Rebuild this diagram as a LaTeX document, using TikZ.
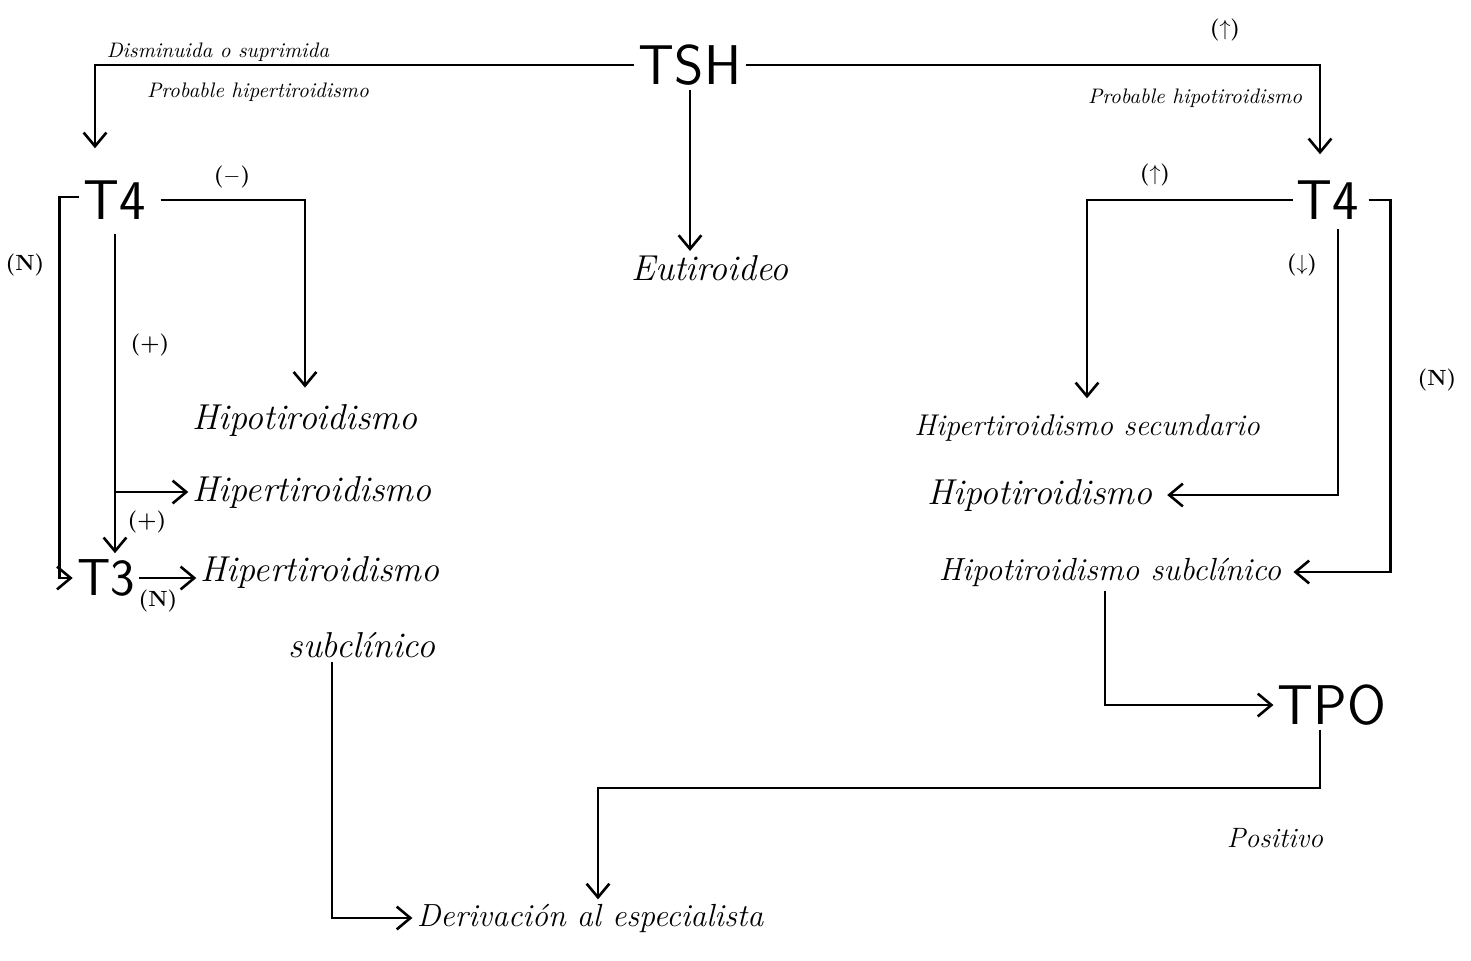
\documentclass[tikz,border=0pt]{standalone}
\usetikzlibrary{arrows.meta,calc}

\tikzset{
  arr/.style={line width=1.3pt, -{Straight Barb[length=2.4mm,width=4mm]}},
  block/.style={font=\sffamily\fontsize{28}{30}\selectfont, inner sep=2pt},
  diag/.style={font=\itshape\fontsize{18}{20}\selectfont, inner sep=2pt},
  diagsm/.style={font=\itshape\fontsize{16}{18}\selectfont, inner sep=2pt},
  tag/.style={font=\bfseries\fontsize{11}{13}\selectfont, inner sep=1pt},
  note/.style={font=\itshape\fontsize{10.5}{12}\selectfont, inner sep=1pt},
}

\begin{document}
\begin{tikzpicture}[x=0.5pt, y=-0.5pt]
\useasboundingbox (0,0) rectangle (1471,960);

% main tests
\node[block] (tsh) at (690,65) {TSH};
\node[block] (t4l) at (115,200) {T4};
\node[block, inner sep=0pt, font=\sffamily\fontsize{26}{28}\selectfont] (t3) at (106,578) {T3};
\node[block] (t4r) at (1328,200) {T4};
\node[block] (tpo) at (1332,705) {TPO};

% results
\node[diag] (eut) at (710,268) {Eutiroideo};
\node[diag] (hipo) at (305,420) {Hipotiroidismo};
\node[diag] (hiper) at (312,492) {Hipertiroidismo};
\node[diag] (hsub) at (320,572) {Hipertiroidismo};
\node[diag] (hsubb) at (362,645) {subclínico};
\node[diagsm, font=\itshape\fontsize{15}{18}\selectfont] (hsec) at (1087,428) {Hipertiroidismo secundario};
\node[diag] (hipor) at (1040,495) {Hipotiroidismo};
\node[diagsm] (hsubr) at (1110,572) {Hipotiroidismo subclínico};
\node[diagsm] (deriv) at (590,918) {Derivación al especialista};

% notes and tags
\node[note] (dism) at (218,52) {Disminuida o suprimida};
\node[note] (phiper) at (258,92) {Probable hipertiroidismo};
\node[note] (phipo) at (1195,98) {Probable hipotiroidismo};
\node[tag] (up) at (1225,30) {($\uparrow$)};
\node[tag] (neg) at (232,177) {($-$)};
\node[tag] (nl) at (25,265) {(N)};
\node[tag] (pos) at (150,345) {(+)};
\node[tag] (pos3) at (147,522) {(+)};
\node[tag] (n3) at (158,601) {(N)};
\node[tag] (upr) at (1155,175) {($\uparrow$)};
\node[tag] (dnr) at (1302,265) {($\downarrow$)};
\node[tag] (nr) at (1437,380) {(N)};
\node[note, font=\itshape\fontsize{14}{16}\selectfont] (posit) at (1275,838) {Positivo};

% TSH
\draw[arr] (tsh.west) -| ($(t4l.north)+(-20,-28)$);
\draw[arr] (tsh.east) -| ($(t4r.north)+(-8,-22)$);
\draw[arr] (tsh.south) -- (tsh.south |- eut.north);

% left T4
\coordinate (t4ld) at ($(t4l.south)+(0,10)$);
\draw[arr, shorten >=6pt] ($(t4l.east)+(10,0)$) -| (hipo.north);
\draw[arr] ($(t4l.west)+(0,-3)$) -- ++(-20,0) |- ($(t3.west)+(-4,0)$);
\draw[arr] (t4ld) -- ($(t4ld |- t3.north)+(0,-6)$);
\draw[arr] (t4ld |- hiper.west) -- (hiper.west);
\draw[arr] ($(t3.east)+(4,0)$) -- (t3.east -| hsub.west);
\draw[arr] ($(hsubb.south)+(-30,0)$) |- (deriv.west);

% right T4
\draw[arr, shorten >=6pt] (t4r.west) -| (hsec.north);
\draw[arr] ($(t4r.south)+(10,5)$) |- ($(hipor.east)+(10,0)$);
\draw[arr] ($(t4r.east)+(5,0)$) -- ++(22,0) |- ($(hsubr.east)+(8,0)$);
\draw[arr] ($(hsubr.south)+(-5,0)$) |- (tpo.west);
\coordinate (pbend) at (598,788);
\draw[arr] ($(tpo.south)+(-12,0)$) |- (pbend) -- (pbend |- deriv.north);
\end{tikzpicture}
\end{document}
